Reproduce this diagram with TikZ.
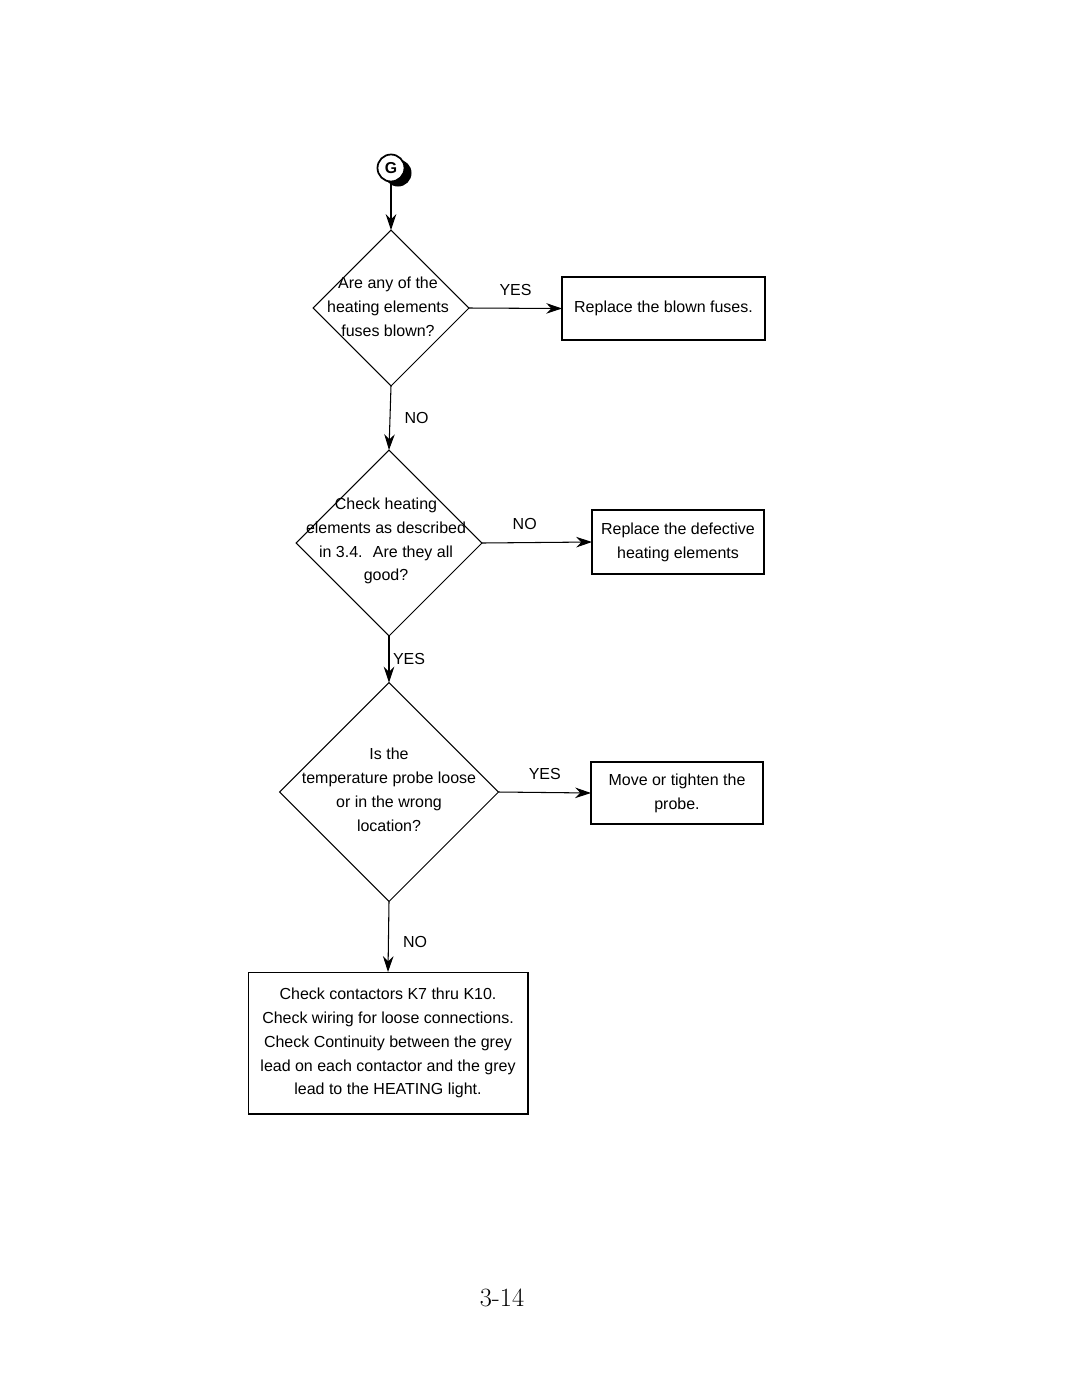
\documentclass[tikz,border=0pt]{standalone}
\usepackage{fontspec}
\setmainfont{Liberation Sans}
\newfontfamily\pagefont{Latin Modern Roman}
\usetikzlibrary{shapes.geometric,arrows.meta}

\begin{document}
\begin{tikzpicture}[x=0.02cm,y=-0.02cm,
    font=\fontsize{9.1}{13.6}\selectfont,
    line width=0.6pt,
    arr/.style={-{Stealth[length=9pt,width=6pt]}},
    query/.style={draw,diamond,inner sep=0pt,outer sep=0pt},
    action/.style={draw,rectangle,inner sep=0pt,outer sep=0pt,align=center},
    txt/.style={align=center,inner sep=0pt},
    lbl/.style={inner sep=2pt}]
  \useasboundingbox (0,0) rectangle (1080,1397);

  % connector G
  \fill (398,173) circle (13.5);
  \node[draw,circle,line width=1pt,fill=white,minimum size=27*0.02cm,inner sep=0pt,font=\fontsize{9}{10}\selectfont\bfseries] (G) at (391,168) {G};

  % the three questions
  \node[query,minimum width=3.12cm,minimum height=3.12cm] (d1) at (391,308) {};
  \node[txt] (d1t) at (388,307) {Are any of the\\heating elements\\fuses blown?};

  \node[query,minimum width=3.72cm,minimum height=3.72cm] (d2) at (389,543) {};
  \node[txt] (d2t) at (386,541) {Check heating\\elements as described\\in 3.4.~ Are they all\\good?};

  \node[query,minimum width=4.38cm,minimum height=4.38cm] (d3) at (389,792) {};
  \node[txt] (d3t) at (389,790) {Is the\\temperature probe loose\\or in the wrong\\location?};

  % the actions
  \node[action,minimum width=4.06cm,minimum height=1.26cm] (b1) at (663.5,308.5) {Replace the blown fuses.};
  \node[action,minimum width=3.44cm,minimum height=1.28cm] (b2) at (678,542) {Replace the defective\\heating elements};
  \node[action,minimum width=3.44cm,minimum height=1.24cm] (b3) at (677,793) {Move or tighten the\\probe.};
  \node[action,minimum width=5.6cm,minimum height=2.84cm] (b4) at (388,1043) {Check contactors K7 thru K10.\\Check wiring for loose connections.\\Check Continuity between the grey\\lead on each contactor and the grey\\lead to the HEATING light.};

  % flow
  \draw[arr] (G) -- (d1.north);
  \draw[arr] (d1.east) -- node[lbl,above,yshift=5pt] {YES} (b1.west);
  \draw[arr] (d1.south) -- node[lbl,right,xshift=6pt] {NO} (d2.north);
  \draw[arr] (d2.east) -- node[lbl,above,yshift=5pt,xshift=-7pt] {NO} (b2.west);
  \draw[arr] (d2.south) -- node[lbl,right] {YES} (d3.north);
  \draw[arr] (d3.east) -- node[lbl,above,yshift=5pt] {YES} (b3.west);
  \draw[arr] (d3.south) -- node[lbl,right,xshift=6pt,yshift=-3pt] {NO} (b4.north);

  \node (page) at (502,1298) {\pagefont\fontsize{15}{17}\selectfont 3-14};
\end{tikzpicture}
\end{document}
